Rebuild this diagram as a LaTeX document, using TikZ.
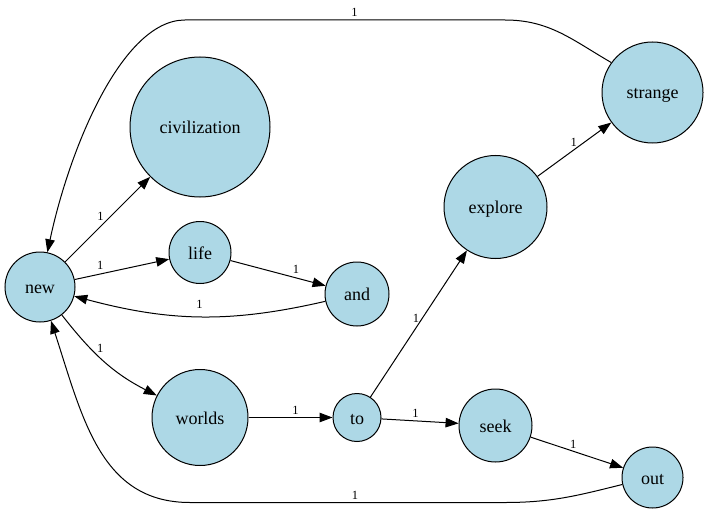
\documentclass[tikz,border=0pt]{standalone}
\usepackage{fontspec}
\setmainfont{Liberation Serif}
\newfontfamily\wserif{Liberation Serif}
\usepackage{tikz}
\usetikzlibrary{arrows.meta}
\definecolor{wfill}{RGB}{173,216,230}
\tikzset{
  wnode/.style={circle, draw=black, line width=1pt, fill=wfill, inner sep=0pt,
      minimum size=#1, text height=13pt, text depth=0pt,
      font=\wserif\fontsize{18}{20}\selectfont},
  wlab/.style={font=\wserif\fontsize{12.5}{13}\selectfont, inner sep=1pt},
  warr/.style={-{Triangle[length=13pt, width=9.5pt]}, line width=1pt},
}

\begin{document}
\begin{tikzpicture}[x=1pt, y=1pt]
  \useasboundingbox (0,0) rectangle (708,-513);
  \node[wnode=70pt] (nnew) at (40,-287) {new};
  \node[wnode=140pt] (nciv) at (200,-127) {civilization};
  \node[wnode=62pt] (nlife) at (200,-252.5) {life};
  \node[wnode=64pt] (nand) at (357,-294) {and};
  \node[wnode=96pt] (nworlds) at (200,-417.5) {worlds};
  \node[wnode=48pt] (nto) at (357,-417.5) {to};
  \node[wnode=103pt] (nexplore) at (495.5,-207) {explore};
  \node[wnode=101pt] (nstrange) at (652.5,-92.5) {strange};
  \node[wnode=73pt] (nseek) at (495.5,-425.5) {seek};
  \node[wnode=61pt] (nout) at (652.5,-477.5) {out};
  \coordinate (topr) at (505,-20);
  \coordinate (topl) at (185,-20);
  \coordinate (botr) at (505,-502.5);
  \coordinate (botl) at (190,-502.5);
  \draw[warr] (nnew) -- node[wlab, pos=0.47, above left=0pt] {1} (nciv);
  \draw[warr] (nnew) -- node[wlab, pos=0.27, above=3pt] {1} (nlife);
  \draw[warr] (nlife) -- node[wlab, pos=0.69, above=2.5pt] {1} (nand);
  \draw[warr] (nand) to[out=193, in=-15] node[wlab, above=7pt] {1} (nnew);
  \draw[warr] (nnew) to[out=-52, in=153] node[wlab, pos=0.4, above right=0pt] {1} (nworlds);
  \draw[warr] (nworlds) -- node[wlab, pos=0.56, above=1.5pt] {1} (nto);
  \draw[warr] (nto) -- node[wlab, pos=0.54, left=2pt] {1} (nexplore);
  \draw[warr] (nto) -- node[wlab, pos=0.44, above=2pt] {1} (nseek);
  \draw[warr] (nexplore) -- node[wlab, pos=0.49, above=1.5pt] {1} (nstrange);
  \draw[warr] (nseek) -- node[wlab, pos=0.46, above=1.5pt] {1} (nout);
  \draw[warr] (nstrange.144) to[out=150, in=0] (topr) -- node[wlab, pos=0.47, above=1.5pt] {1} (topl)
    to[out=180, in=78, out looseness=0.6] (nnew);
  \draw[warr] (nout.193) to[out=194, in=0] (botr) -- node[wlab, pos=0.476, above=2pt] {1} (botl)
    to[out=180, in=-72, in looseness=1.15] (nnew);
\end{tikzpicture}
\end{document}
